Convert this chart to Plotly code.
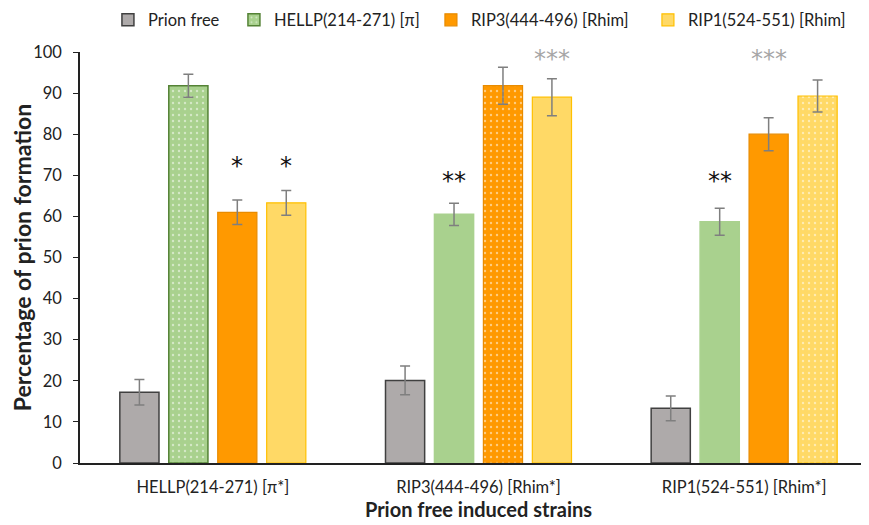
import plotly.graph_objects as go

categories = ["HELLP(214-271) [π*]", "RIP3(444-496) [Rhim*]", "RIP1(524-551) [Rhim*]"]
series_names = ["Prion free", "HELLP(214-271) [π]", "RIP3(444-496) [Rhim]", "RIP1(524-551) [Rhim]"]

prion_free = [17.2, 20.1, 13.3]
prion_free_err = [3.1, 3.5, 3.0]
hellp = [91.8, 60.5, 58.7]
hellp_err = [2.8, 2.7, 3.3]
rip3 = [61.0, 91.8, 80.0]
rip3_err = [3.0, 4.5, 4.0]
rip1 = [63.3, 89.0, 89.3]
rip1_err = [3.0, 4.5, 3.9]

# significance marks: (group index, series index, text, y value, colour)
sig_groups = [0, 0, 1, 1, 2, 2]
sig_series = [2, 3, 1, 3, 1, 2]
sig_text = ["*", "*", "**", "***", "**", "***"]
sig_y = [72.3, 72.3, 68.7, 98.2, 68.7, 98.2]
sig_color = ["#111111", "#111111", "#111111", "#A6A6A6", "#111111", "#A6A6A6"]

FONT = "Lato"
BARGAP = 0.263
x = list(range(len(categories)))

fills = ["#AEAAAA", "#A9D18E", "#FF9900", "#FFD966"]
lines = [
    ["#404040"] * 3,
    ["#548235", "#A9D18E", "#A9D18E"],
    ["#E88B00", "#E88B00", "#E88B00"],
    ["#FFC000", "#FFC000", "#FFC000"],
]
line_w = [1.5, 1.5, 1.2, 1.2]
patterns = [
    ["", "", ""],
    [".", "", ""],
    ["", ".", ""],
    ["", "", "."],
]
values = [prion_free, hellp, rip3, rip1]
errors = [prion_free_err, hellp_err, rip3_err, rip1_err]
legend_w = [81, 152, 172, 165]

fig = go.Figure()
for i in range(4):
    fig.add_trace(go.Bar(
        x=x, y=values[i], name=series_names[i],
        marker=dict(
            color=fills[i],
            line=dict(color=lines[i], width=line_w[i]),
            pattern=dict(shape=patterns[i], fgcolor="white", size=6, solidity=0.12),
        ),
        error_y=dict(type="data", array=errors[i], visible=True,
                     color="#7F7F7F", thickness=1.5, width=5),
        legendwidth=legend_w[i],
    ))

slot = (1 - BARGAP) / 4
for g, s, t, yv, c in zip(sig_groups, sig_series, sig_text, sig_y, sig_color):
    fig.add_annotation(
        x=g + (s - 1.5) * slot, y=yv, text=t, showarrow=False,
        font=dict(family="DejaVu Sans", size=24, color=c), yanchor="middle",
    )

fig.update_layout(
    width=869, height=525,
    margin=dict(l=72, r=0, t=44, b=70, autoexpand=False),
    paper_bgcolor="white", plot_bgcolor="white",
    barmode="group", bargap=BARGAP, bargroupgap=0.2,
    font=dict(family=FONT, size=16.5, color="#222222"),
    legend=dict(orientation="h", xref="container", yref="container",
                x=0.115, xanchor="left", y=0.977, yanchor="middle",
                font=dict(family=FONT, size=16.5, color="#222222"),
                traceorder="normal"),
    xaxis=dict(
        tickmode="array", tickvals=x, ticktext=categories, automargin=False,
        range=[-0.5, 2.5], showline=True, linecolor="#222222", linewidth=1.5,
        ticks="", showgrid=False, zeroline=False, ticklabelstandoff=8,
        title=dict(text="<b>Prion free induced strains</b>", font=dict(family=FONT, size=20), standoff=3),
    ),
    yaxis=dict(
        range=[0, 100], dtick=10, showline=True, linecolor="#222222", linewidth=1.5,
        automargin=False, ticklabelstandoff=8,
        ticks="outside", ticklen=5, tickcolor="#222222", showgrid=False, zeroline=False,
        title=dict(text="<b>Percentage of prion formation</b>", font=dict(family=FONT, size=23), standoff=3),
    ),
)

fig.write_html("out.html")
